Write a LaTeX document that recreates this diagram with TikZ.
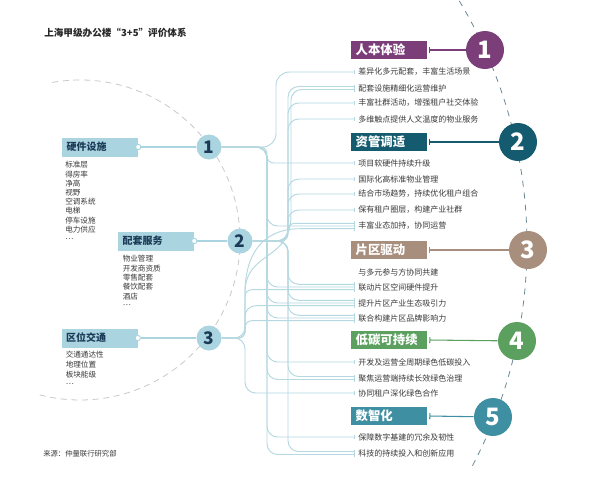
\documentclass[tikz,border=0pt]{standalone}
\usepackage{fontspec}
\setmainfont{Noto Sans CJK SC}
\usetikzlibrary{arrows.meta,calc}
\definecolor{lb}{HTML}{AAD4DF}
\definecolor{navy}{HTML}{1B3A57}
\definecolor{connc}{HTML}{B5D8E1}
\definecolor{pur}{HTML}{7B3E78}
\definecolor{tld}{HTML}{155B70}
\definecolor{brn}{HTML}{A88F7D}
\definecolor{grn}{HTML}{5BA05E}
\definecolor{tll}{HTML}{3E8FA2}
\definecolor{txt}{HTML}{3A3A3A}
\definecolor{dashl}{HTML}{C9C9C9}
\definecolor{dashr}{HTML}{6A8995}
\begin{document}
\begin{tikzpicture}[x=0.75pt,y=-0.75pt,
  conn/.style={draw=connc,line width=0.7pt,-{Bar[width=3pt,line width=0.6pt]}},
  item/.style={anchor=west,inner sep=0pt,font=\fontsize{6}{7}\selectfont,text=txt},
  ltxt/.style={anchor=west,inner sep=0pt,font=\fontsize{5.7}{6.5}\selectfont,text=txt},
  lhead/.style={fill=lb,text=navy,text width=50pt,inner xsep=3.5pt,inner ysep=0pt,minimum height=14.25pt,align=left,font=\fontsize{7.5}{9}\selectfont\bfseries},
  rhead/.style={text=white,text width=50pt,inner xsep=3.5pt,inner ysep=0pt,minimum height=13.5pt,align=left,font=\fontsize{9.3}{10}\selectfont\bfseries},
  lcirc/.style={circle,fill=lb,minimum size=18.75pt,inner sep=0pt,text=navy,font=\fontsize{13}{15}\selectfont\bfseries},
  rcirc/.style={circle,minimum size=28.5pt,inner sep=0pt,text=white,font=\fontsize{18}{20}\selectfont\bfseries},
  dotc/.style={circle,draw=lb,fill=white,line width=0.7pt,minimum size=4pt,inner sep=0pt},
  lline/.style={draw=lb,line width=0.9pt}]
\fill[white] (0,0) rectangle (600,480);
\useasboundingbox (0,0) rectangle (600,480);

% dashed arcs
\draw[dashl,line width=0.6pt,dash pattern=on 4.5pt off 3.5pt] ([shift={(-100:160)}]80,240) arc[start angle=-100,end angle=106,radius=160];
\draw[dashr,line width=0.6pt,dash pattern=on 4.5pt off 4.5pt] ([shift={(-31:474)}]53,245) arc[start angle=-31,end angle=28,radius=474];

% title and source
\node[anchor=west,inner sep=0pt,font=\fontsize{7.2}{9}\selectfont\bfseries,text=black!85] (title) at (44,33) {上海甲级办公楼“3+5”评价体系};
\node[anchor=west,inner sep=0pt,font=\fontsize{5.5}{7}\selectfont,text=txt] (src) at (43,454) {来源：仲量联行研究部};

% left boxes and circles
\node[lhead] (B1) at (100,147) {硬件设施};
\node[lhead] (B2) at (156,241) {配套服务};
\node[lhead] (B3) at (99.5,338) {区位交通};
\node[lcirc] (c1) at (209,147) {1};
\node[lcirc] (c2) at (240,241) {2};
\node[lcirc] (c3) at (209,338) {3};
\node[dotc] (d1) at (B1.east) {};
\node[dotc] (d2) at (B2.east) {};
\node[dotc] (d3) at (B3.east) {};
\draw[lline] (d1) -- (c1);
\draw[lline] (d2) -- (c2);
\draw[lline] (d3) -- (c3);

\foreach \t [count=\j] in {标准层,得房率,净高,视野,空调系统,电梯,停车设施,电力供应,…}
  \node[ltxt] (pa\j) at (65,{165+9.2*(\j-1)}) {\t};
\foreach \t [count=\j] in {物业管理,开发商资质,零售配套,餐饮配套,酒店,…}
  \node[ltxt] (pb\j) at (122.5,{259+9.3*(\j-1)}) {\t};
\foreach \t [count=\j] in {交通通达性,地理位置,板块能级,…}
  \node[ltxt] (pc\j) at (65.5,{355+9.7*(\j-1)}) {\t};

% items
\foreach \n/\y/\t in {1/72/差异化多元配套，丰富生活场景,2/88/配套设施精细化运营维护,3/103/丰富社群活动，增强租户社交体验,4/119/多维触点提供人文温度的物业服务,5/163/项目软硬件持续升级,6/179/国际化高标准物业管理,7/194/结合市场趋势，持续优化租户组合,8/210/保有租户圈层，构建产业社群,9/226/丰富业态加持，协同运营,10/272/与多元参与方协同共建,11/287/联动片区空间硬件提升,12/303/提升片区产业生态吸引力,13/318/联合构建片区品牌影响力,14/362/开发及运营全周期绿色低碳投入,15/378/聚焦运营端持续长效绿色治理,16/393/协同租户深化绿色合作,17/437/保障数字基建的冗余及韧性,18/453/科技的持续投入和创新应用}
  \node[item] (i\n) at (358,\y) {\t};

% bus coordinates
\coordinate (b1) at (267,147);
\coordinate (b1u) at (276,147);
\coordinate (b2) at (288,241);
\coordinate (b3) at (245,338);
\coordinate (s3) at (245,300);

% bus 1
\draw[conn,rounded corners=10pt] (c1) -- (b1u) -- (b1u |- i1.west) -- ($(i1.west)+(-3,0)$);
\foreach \n/\o/\rb in {5/0/5pt,9/0/8pt,11/0/8pt,12/0/8pt,13/0/8pt,14/0/8pt,15/1.5/8pt,17/0/8pt,18/1.5/8pt}
  \draw[conn,rounded corners=\rb] (c1) -- (b1) -- ($(b1 |- i\n.west)+(0,\o)$) -- ($(i\n.west)+(-3,\o)$);
% bus 2
\foreach \n/\o/\rb in {2/-1.5/8pt,3/0/8pt,4/0/8pt,6/0/8pt,7/0/8pt,8/0/8pt,9/-2.7/5pt,11/-2.7/8pt,12/-2.7/8pt,13/-2.7/8pt,15/-1.5/8pt,18/-1.5/8pt}
  \draw[conn,rounded corners=\rb] (c2) -- (b2) -- ($(b2 |- i\n.west)+(0,\o)$) -- ($(i\n.west)+(-3,\o)$);
% bus 3
\foreach \n/\o/\rb in {11/2.7/5pt,12/2.7/8pt,13/2.7/5pt,16/0/8pt}
  \draw[conn,rounded corners=\rb] (c3) -- (b3) -- ($(b3 |- i\n.west)+(0,\o)$) -- ($(i\n.west)+(-3,\o)$);
\draw[conn,rounded corners=5pt] (c3) -- (b3) -- (s3) [sharp corners] .. controls (245,255) and (262,228.7) .. (300,228.7) -- ($(i9.west)+(-3,2.7)$);
\draw[conn] (c3) [rounded corners=5pt] -- (b3) -- (s3) [sharp corners] .. controls (245,250) and (291,262) .. (291,215) [rounded corners=8pt] -- (291,89.5) -- ($(i2.west)+(-3,1.5)$);

% right headers and circles
\foreach \k/\y/\c/\t/\cx/\cy in {1/50/pur/人本体验/485/50,2/142/tld/资管调适/518/142,3/250/brn/片区驱动/528/250,4/340/grn/低碳可持续/517/341,5/416/tll/数智化/493/417}{
  \node[rhead,fill=\c] (h\k) at (389,\y) {\t};
  \node[rcirc,fill=\c] (r\k) at (\cx,\cy) {\k};
  \draw[draw=\c,line width=0.8pt,{Bar[width=4.5pt]}-] ([xshift=1.5pt]h\k.east) -- (r\k);
}
\end{tikzpicture}
\end{document}
